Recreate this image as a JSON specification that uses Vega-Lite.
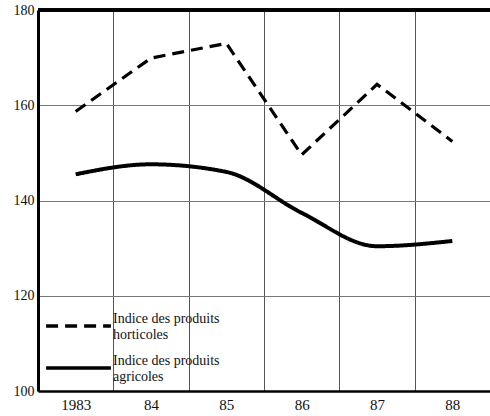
{
  "$schema": "https://vega.github.io/schema/vega-lite/v6.json",
  "width": 452,
  "height": 381,
  "autosize": "none",
  "padding": {"left": 38, "top": 10, "right": 0, "bottom": 25},
  "background": "white",
  "config": {
    "font": "Liberation Serif",
    "view": {"stroke": null}
  },
  "data": {
    "values": [
      {"annee": "1983", "serie": "Indice des produits horticoles", "indice": 158.7},
      {"annee": "84", "serie": "Indice des produits horticoles", "indice": 169.9},
      {"annee": "85", "serie": "Indice des produits horticoles", "indice": 173.0},
      {"annee": "86", "serie": "Indice des produits horticoles", "indice": 149.6},
      {"annee": "87", "serie": "Indice des produits horticoles", "indice": 164.4},
      {"annee": "88", "serie": "Indice des produits horticoles", "indice": 152.4},
      {"annee": "1983", "serie": "Indice des produits agricoles", "indice": 145.5},
      {"annee": "84", "serie": "Indice des produits agricoles", "indice": 147.6},
      {"annee": "85", "serie": "Indice des produits agricoles", "indice": 146.0},
      {"annee": "86", "serie": "Indice des produits agricoles", "indice": 137.4},
      {"annee": "87", "serie": "Indice des produits agricoles", "indice": 130.4},
      {"annee": "88", "serie": "Indice des produits agricoles", "indice": 131.5}
    ]
  },
  "encoding": {
    "x": {
      "field": "annee",
      "type": "ordinal",
      "sort": null,
      "scale": {"type": "band", "paddingInner": 0, "paddingOuter": 0},
      "axis": {
        "title": null,
        "labelAngle": 0,
        "tickBand": "extent",
        "grid": true,
        "gridColor": "#555",
        "gridWidth": 1,
        "gridOpacity": 1,
        "ticks": false,
        "domainColor": "black",
        "domainWidth": 2.5,
        "labelFont": "Liberation Serif",
        "labelFontSize": 15,
        "labelColor": "#111",
        "labelPadding": 6
      }
    },
    "y": {
      "field": "indice",
      "type": "quantitative",
      "scale": {"domain": [100, 180], "nice": false, "zero": false},
      "axis": {
        "title": null,
        "values": [100, 120, 140, 160, 180],
        "grid": true,
        "gridColor": "#777",
        "gridWidth": 1,
        "gridOpacity": 1,
        "ticks": false,
        "domainColor": "black",
        "domainWidth": 3,
        "labelFont": "Liberation Serif",
        "labelFontSize": 14,
        "labelColor": "#111",
        "labelPadding": 4
      }
    },
    "color": {
      "field": "serie",
      "type": "nominal",
      "sort": ["Indice des produits horticoles", "Indice des produits agricoles"],
      "scale": {"range": ["black", "black"]},
      "legend": null
    },
    "strokeDash": {
      "field": "serie",
      "type": "nominal",
      "sort": ["Indice des produits horticoles", "Indice des produits agricoles"],
      "scale": {"range": [[12, 7], [1, 0]]},
      "legend": {
        "title": null,
        "orient": "none",
        "legendX": 6,
        "legendY": 298,
        "padding": 0,
        "clipHeight": 36,
        "rowPadding": 6,
        "symbolType": "stroke",
        "symbolSize": 4200,
        "symbolStrokeWidth": 3.5,
        "symbolStrokeColor": "black",
        "labelFont": "Liberation Serif",
        "labelFontSize": 14,
        "labelColor": "#111",
        "labelLimit": 300,
        "labelBaseline": "bottom",
        "labelLineHeight": 17,
        "labelExpr": "datum.label == 'Indice des produits horticoles' ? ['Indice des produits', 'horticoles'] : ['Indice des produits', 'agricoles']",
        "labelOffset": 0
      }
    }
  },
  "layer": [
    {
      "transform": [{"filter": "datum.serie == 'Indice des produits horticoles'"}],
      "mark": {"type": "line", "strokeWidth": 3.2, "interpolate": "linear"}
    },
    {
      "transform": [{"filter": "datum.serie == 'Indice des produits agricoles'"}],
      "mark": {"type": "line", "strokeWidth": 4, "interpolate": "monotone"}
    },
    {
      "mark": {"type": "rule", "color": "black", "strokeWidth": 2.5},
      "encoding": {
        "y": {"datum": 180},
        "x": null,
        "color": null,
        "strokeDash": null
      }
    }
  ]
}
